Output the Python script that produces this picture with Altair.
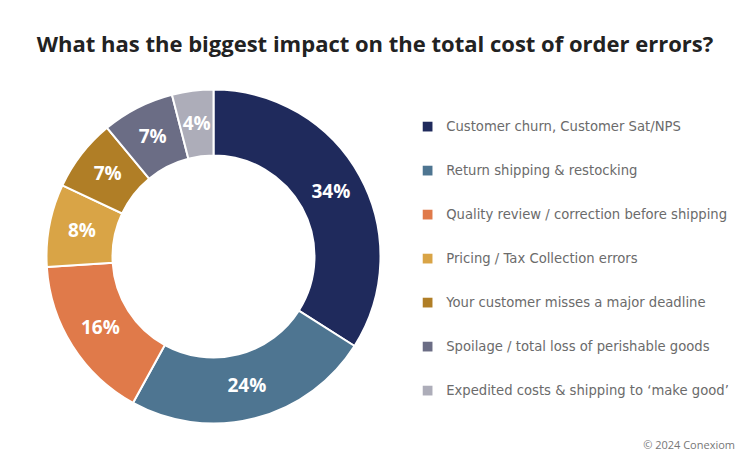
import altair as alt
import pandas as pd

categories = [
    "Customer churn, Customer Sat/NPS",
    "Return shipping & restocking",
    "Quality review / correction before shipping",
    "Pricing / Tax Collection errors",
    "Your customer misses a major deadline",
    "Spoilage / total loss of perishable goods",
    "Expedited costs & shipping to \u2018make good\u2019",
]
values = [34, 24, 16, 8, 7, 7, 4]
colors = ["#1f2a5c", "#4e7591", "#e07a4a", "#d9a446", "#b07e26", "#6b6d85", "#adadb9"]

df = pd.DataFrame({
    "category": categories,
    "value": values,
    "order": list(range(len(categories))),
    "label": [f"{v}%" for v in values],
})

FONT = "Open Sans"
CX, CY = 205.5, 248.5

base = alt.Chart(df).encode(
    theta=alt.Theta("value:Q", stack=True),
    order=alt.Order("order:Q"),
)

arcs = base.mark_arc(outerRadius=167, innerRadius=101, stroke="white", strokeWidth=2).encode(
    x=alt.value(CX), y=alt.value(CY),
    color=alt.Color(
        "category:N",
        sort=categories,
        scale=alt.Scale(domain=categories, range=colors),
        legend=alt.Legend(
            title=None, orient="none", legendX=413, legendY=112,
            symbolType="square", symbolSize=95, symbolStrokeWidth=0,
            labelFont="DejaVu Sans", labelFontSize=13.2, labelColor="#6b6b6b",
            labelOffset=12, rowPadding=30, labelLimit=400,
        ),
    ),
)

labels = base.mark_text(font=FONT, fontSize=19, fontWeight="bold", color="white").encode(
    x=alt.value(CX), y=alt.value(CY),
    radius=alt.value(134),
    text="label:N",
)

title_df = pd.DataFrame({"t": ["What has the biggest impact on the total cost of order errors?"]})
title = alt.Chart(title_df).mark_text(
    font=FONT, fontSize=22, fontWeight="bold", color="#222222", align="center", baseline="middle"
).encode(x=alt.value(367), y=alt.value(37), text="t:N")

foot_df = pd.DataFrame({"t": ["\u00a9 2024 Conexiom"]})
footer = alt.Chart(foot_df).mark_text(
    font=FONT, fontSize=11, color="#777777", align="right", baseline="middle"
).encode(x=alt.value(727), y=alt.value(438), text="t:N")

chart = alt.layer(arcs, labels, title, footer).properties(
    width=730, height=447, autosize=alt.AutoSizeParams(type="none"), padding=0,
    background="white",
).configure_view(stroke=None, strokeWidth=0)

chart.save("out.html", embed_options={"renderer": "svg", "actions": False})
